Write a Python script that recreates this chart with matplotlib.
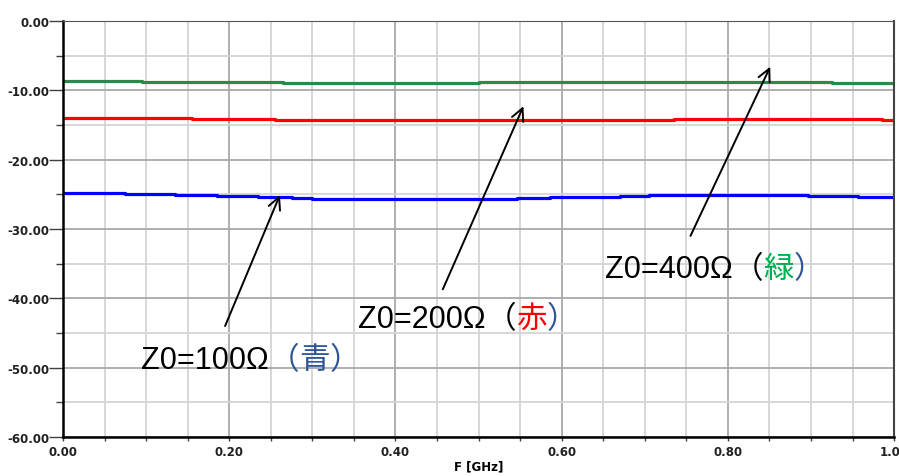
"""Z0 comparison plot"""

#%% Importing modules
import numpy as np
import matplotlib.pyplot as plt
from matplotlib.ticker import MultipleLocator, FormatStrFormatter

#%% Data (step traces)
freq_green = [0.0, 0.095, 0.265, 0.50, 0.925, 1.0]
val_green = [-8.6, -8.8, -8.9, -8.8, -8.95, -8.95]

freq_red = [0.0, 0.155, 0.255, 0.735, 0.845, 0.985, 1.0]
val_red = [-14.0, -14.2, -14.35, -14.2, -14.1, -14.25, -14.4]

freq_blue = [0.0, 0.075, 0.135, 0.185, 0.235, 0.275, 0.30, 0.336, 0.475,
             0.546, 0.586, 0.637, 0.67, 0.705, 0.897, 0.957, 1.0]
val_blue = [-24.85, -25.0, -25.1, -25.24, -25.39, -25.53, -25.63, -25.72,
            -25.63, -25.53, -25.43, -25.34, -25.24, -25.14, -25.24, -25.34,
            -25.34]

# label pieces: (text, colour)
labels = [
    [('Z0=100Ω', 'black'), ('（', '#2f5597'), ('青', '#2f5597'), ('）', '#2f5597')],
    [('Z0=200Ω', 'black'), ('（', 'black'), ('赤', '#ff0000'), ('）', '#2f5597')],
    [('Z0=400Ω', 'black'), ('（', 'black'), ('緑', '#00b050'), ('）', '#2f5597')],
]
label_pos = [(0.094, -50.05), (0.355, -44.1), (0.652, -36.9)]
arrow_tail = [(0.195, -44.0), (0.457, -38.7), (0.755, -31.0)]
arrow_head = [(0.261, -25.1), (0.554, -12.3), (0.851, -6.6)]

#%% Figure
fig = plt.figure(figsize=(8.99, 4.77), dpi=100)
ax = fig.add_axes([0.0701, 0.0818, 0.9244, 0.8721])

ax.plot(freq_green, val_green, drawstyle='steps-post', color='#2a8a4a', lw=2.3)
ax.plot(freq_red, val_red, drawstyle='steps-post', color='#ff0000', lw=2.3)
ax.plot(freq_blue, val_blue, drawstyle='steps-post', color='#0000ff', lw=2.3)

ax.set_xlim(0, 1.0)
ax.set_ylim(-60, 0)

ax.xaxis.set_major_locator(MultipleLocator(0.2))
ax.xaxis.set_minor_locator(MultipleLocator(0.05))
ax.yaxis.set_major_locator(MultipleLocator(10))
ax.yaxis.set_minor_locator(MultipleLocator(5))
ax.xaxis.set_major_formatter(FormatStrFormatter('%.2f'))
ax.yaxis.set_major_formatter(FormatStrFormatter('%.2f'))

ax.grid(which='major', color='#a8a8a8', lw=1.3)
ax.grid(which='minor', color='#d4d4d4', lw=1.3)
ax.set_axisbelow(True)

ax.tick_params(axis='y', which='major', direction='out', length=10, width=1,
               pad=0, color='#404040')
ax.tick_params(axis='y', which='minor', direction='out', length=5, width=1,
               color='#404040')
ax.tick_params(axis='x', which='both', direction='out', length=3, width=1,
               pad=3, color='#404040')
for lab in ax.get_xticklabels() + ax.get_yticklabels():
    lab.set_fontweight('bold')
    lab.set_fontsize(8.5)
    lab.set_color('#202020')

ax.spines['left'].set_linewidth(1.8)
ax.spines['bottom'].set_linewidth(1.8)
ax.spines['left'].set_color('black')
ax.spines['bottom'].set_color('black')
ax.spines['top'].set_color('#555555')
ax.spines['right'].set_color('#444444')
ax.spines['right'].set_linewidth(1.5)

ax.set_xlabel('F [GHz]', fontsize=8.5, fontweight='bold', labelpad=1)

#%% Arrows
for tail, head in zip(arrow_tail, arrow_head):
    ax.annotate('', xy=head, xytext=tail,
                arrowprops=dict(arrowstyle='->', color='black', lw=1.4,
                                mutation_scale=22, shrinkA=0, shrinkB=0))

#%% Labels, drawn piece by piece so each part gets its colour
fam = ['Liberation Sans', 'Noto Sans CJK JP', 'DejaVu Sans']
for pieces, pos in zip(labels, label_pos):
    prev = ax.text(pos[0], pos[1], pieces[0][0], color=pieces[0][1],
                   fontsize=22, family=fam, va='baseline', ha='left')
    for txt, col in pieces[1:]:
        prev = ax.annotate(txt, xy=(1, 0), xycoords=prev, color=col,
                           fontsize=22, family=fam, va='bottom', ha='left')

fig.savefig('out.png', dpi=100)
